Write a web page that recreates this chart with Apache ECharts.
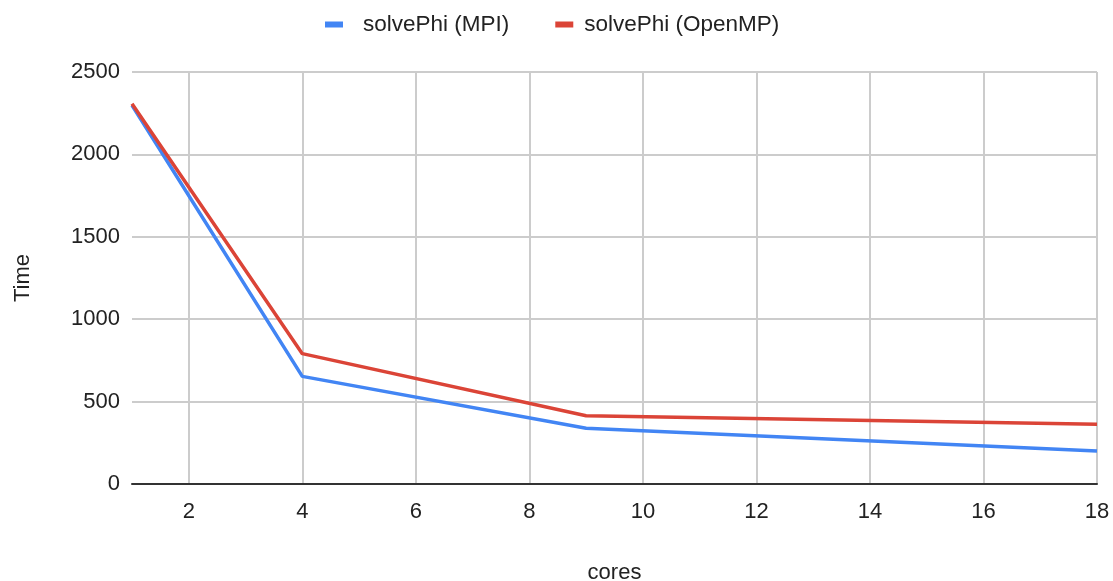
<!DOCTYPE html>
<html>
<head>
<meta charset="utf-8">
<script src="https://cdn.jsdelivr.net/npm/echarts@6/dist/echarts.min.js"></script>
<style>
html, body { margin: 0; padding: 0; background: #fff; }
#main { width: 1113px; height: 581px; }
</style>
</head>
<body>
<div id="main"></div>
<script>
var cores = [1, 4, 9, 18];
var mpiTime = [2298, 653, 338, 200];
var openmpTime = [2308, 791, 414, 362];
var xTicks = [2, 4, 6, 8, 10, 12, 14, 16, 18];

var chart = echarts.init(document.getElementById('main'));

function pairs(xs, ys) {
    return xs.map(function (x, i) { return [x, ys[i]]; });
}

var option = {
    backgroundColor: '#fff',
    textStyle: { fontFamily: 'Liberation Sans, Arial, sans-serif' },
    color: ['#4285F4', '#DB4437'],
    legend: {
        top: 8,
        left: 320,
        itemWidth: 18,
        itemHeight: 6,
        itemGap: 46,
        icon: 'rect',
        textStyle: { fontSize: 22.5, color: '#222' },
        data: [
            { name: 'solvePhi (MPI)', textStyle: { padding: [0, 0, 0, 15] } },
            { name: 'solvePhi (OpenMP)', textStyle: { padding: [0, 0, 0, 6] } }
        ]
    },
    grid: { left: 132, right: 16, top: 72, bottom: 97, outerBoundsMode: 'none', containLabel: false },
    xAxis: {
        type: 'value',
        min: 1,
        max: 18,
        name: 'cores',
        nameLocation: 'middle',
        nameGap: 78,
        nameTextStyle: { fontSize: 22, color: '#222' },
        axisLine: { show: true, lineStyle: { color: '#333', width: 2 } },
        axisTick: { show: false, customValues: xTicks },
        axisLabel: { customValues: xTicks, fontSize: 22, color: '#222', margin: 17 },
        splitLine: { show: true, lineStyle: { color: '#ccc', width: 2 } }
    },
    yAxis: {
        type: 'value',
        min: 0,
        max: 2500,
        interval: 500,
        name: 'Time',
        nameLocation: 'middle',
        nameGap: 98,
        nameTextStyle: { fontSize: 22, color: '#222' },
        axisLine: { show: false },
        axisTick: { show: false },
        axisLabel: {
            fontSize: 22,
            color: '#222',
            margin: 12,
            formatter: function (v) { return String(v); }
        },
        splitLine: { show: true, lineStyle: { color: '#ccc', width: 2 } }
    },
    series: [
        {
            name: 'solvePhi (MPI)',
            type: 'line',
            data: pairs(cores, mpiTime),
            showSymbol: false,
            lineStyle: { width: 3.5 },
            z: 2
        },
        {
            name: 'solvePhi (OpenMP)',
            type: 'line',
            data: pairs(cores, openmpTime),
            showSymbol: false,
            lineStyle: { width: 3.5 },
            z: 3
        }
    ]
};
chart.setOption(option);
</script>
</body>
</html>
